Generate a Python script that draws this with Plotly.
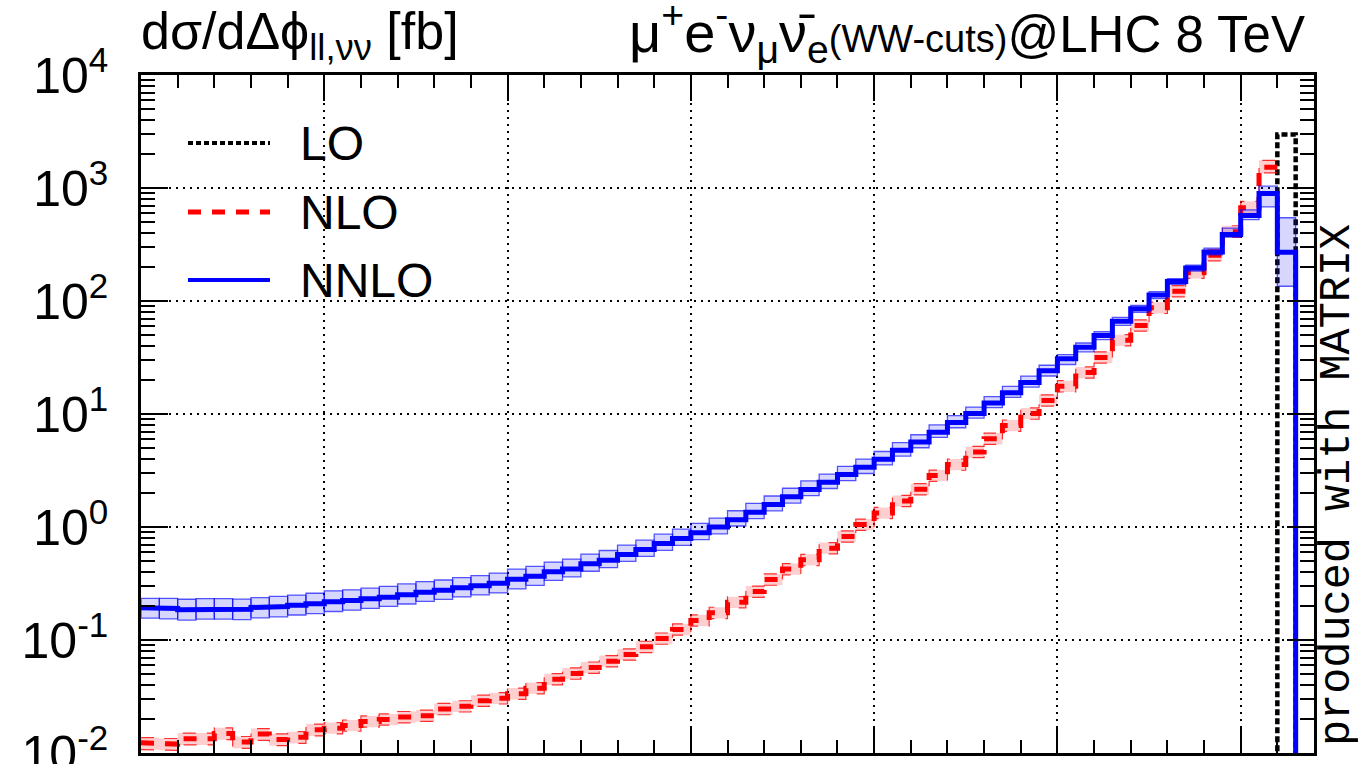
import plotly.graph_objects as go

# Histogram binning in delta-phi(ll, nunu) [rad]
bin_width = 0.05
n_bins = 63
edges = [round(i * bin_width, 2) for i in range(n_bins + 1)]

# d(sigma)/d(delta phi) [fb] per bin
lo = [0.0] * 62 + [2975.0]

nlo = [0.0123, 0.0120, 0.0134, 0.0134, 0.0149, 0.0125, 0.0147, 0.0132, 0.0138, 0.0161,
       0.0166, 0.0175, 0.0190, 0.0198, 0.0208, 0.0214, 0.0245, 0.0259, 0.0290, 0.0305,
       0.0335, 0.0375, 0.0450, 0.0505, 0.0570, 0.0650, 0.0745, 0.0870, 0.103, 0.124,
       0.149, 0.174, 0.216, 0.268, 0.343, 0.424, 0.512, 0.650, 0.825, 1.05,
       1.33, 1.70, 2.16, 2.85, 3.57, 4.61, 6.05, 7.9, 10.1, 13.2,
       17.6, 23.3, 31.7, 45.0, 60.7, 87.1, 122.0, 178.0, 254.0, 410.0,
       668.0, 1528.0, None]
nlo_up_pct = [11, 12, 12, 12, 12, 12, 12, 12, 12, 12,
              12, 12, 12, 12, 12, 12, 12, 12, 12, 12,
              12, 12, 12, 12, 12, 12, 12, 12, 12, 12,
              12, 12, 12, 12, 12, 12, 12, 12, 12, 12,
              12, 12, 12, 12, 12, 12, 12, 12, 12, 12,
              12, 12, 12, 12, 12, 12, 12, 12, 13, 13,
              14, 15, 0]
nlo_dn_pct = [13, 12, 12, 12, 12, 12, 12, 12, 12, 12,
              11, 11, 11, 11, 11, 11, 11, 11, 11, 11,
              11, 11, 11, 11, 11, 11, 11, 11, 11, 11,
              11, 11, 11, 11, 11, 11, 11, 11, 11, 11,
              11, 11, 11, 11, 11, 11, 11, 11, 11, 11,
              11, 11, 11, 11, 11, 11, 11, 11, 11, 11,
              11, 11, 0]

nnlo = [0.193, 0.190, 0.185, 0.189, 0.189, 0.187, 0.194, 0.198, 0.203, 0.209,
        0.218, 0.224, 0.232, 0.239, 0.251, 0.265, 0.276, 0.290, 0.302, 0.318,
        0.345, 0.367, 0.401, 0.426, 0.472, 0.508, 0.571, 0.632, 0.714, 0.791,
        0.888, 1.00, 1.16, 1.35, 1.58, 1.85, 2.15, 2.49, 2.92, 3.38,
        3.98, 4.77, 5.65, 6.9, 8.4, 10.1, 12.5, 15.4, 19.0, 24.1,
        30.8, 39.0, 49.5, 66.2, 85.5, 113.0, 149.0, 196.0, 272.0, 388.0,
        571.0, 894.0, 270.0]
nnlo_up_pct = [21, 23, 24, 23, 23, 23, 22, 23, 23, 24,
               25, 24, 24, 25, 25, 24, 23, 23, 23, 23,
               23, 22, 22, 22, 22, 22, 21, 21, 21, 21,
               21, 20, 20, 20, 19, 19, 19, 18, 18, 18,
               17, 17, 16, 16, 15, 14, 14, 14, 14, 12,
               9, 9, 8, 8, 7, 7, 6, 6, 8, 14,
               12, 16, 102]
nnlo_dn_pct = [19, 19, 19, 19, 19, 19, 19, 19, 18, 18,
               18, 18, 18, 17, 17, 17, 17, 17, 17, 18,
               18, 17, 16, 15, 14, 14, 13, 13, 13, 13,
               13, 13, 12, 12, 12, 12, 12, 12, 12, 12,
               11, 11, 11, 10, 10, 9, 9, 9, 9, 10,
               11, 9, 8, 8, 7, 7, 6, 6, 6, 5,
               8, 24, 50]

y_tickvals = [1e-2, 1e-1, 1, 10, 100, 1000, 1e4]
y_ticktext = ["10<sup>-2</sup>", "10<sup>-1</sup>", "10<sup>0</sup>", "10<sup>1</sup>",
              "10<sup>2</sup>", "10<sup>3</sup>", "10<sup>4</sup>"]

W, H = 1358, 764
ML, MR, MT, MB = 141, 44, 75, 11
Y_FLOOR = 1e-3  # below the visible range: histogram outlines close down to it

SANS = "Liberation Sans, Arial, Helvetica, sans-serif"


def step_path(vals, close_at_end=False, empty_to_floor=False):
    xs, ys = [], []
    for i, v in enumerate(vals):
        if v is None or v <= 0:
            if empty_to_floor:
                v = Y_FLOOR
            else:
                xs.append(None)
                ys.append(None)
                continue
        xs += [edges[i], edges[i + 1]]
        ys += [v, v]
    if close_at_end:
        xs.append(edges[-1])
        ys.append(Y_FLOOR)
    return xs, ys


def band_boxes(vals, up, dn):
    xs, ys = [], []
    for i, v in enumerate(vals):
        if v is None:
            continue
        hi = v * (1 + up[i] / 100.0)
        lw = v * (1 - dn[i] / 100.0)
        x0, x1 = edges[i], edges[i + 1]
        xs += [x0, x1, x1, x0, x0, None]
        ys += [lw, lw, hi, hi, lw, None]
    return xs, ys


def band_edge(vals, pct, sign):
    out = []
    for i, v in enumerate(vals):
        out.append(None if v is None else v * (1 + sign * pct[i] / 100.0))
    return step_path(out)


fig = go.Figure()

# LO
x, y = step_path(lo, close_at_end=True, empty_to_floor=True)
fig.add_trace(go.Scatter(x=x, y=y, mode="lines", name="LO", showlegend=False,
                         line=dict(color="black", width=4.5, dash="6px,3px")))

# NLO scale band and central value
x, y = band_boxes(nlo, nlo_up_pct, nlo_dn_pct)
fig.add_trace(go.Scatter(x=x, y=y, mode="lines", fill="toself", showlegend=False,
                         fillcolor="rgba(255,0,0,0.19)", line=dict(width=0), hoverinfo="skip"))
for sgn, pct in ((1, nlo_up_pct), (-1, nlo_dn_pct)):
    x, y = band_edge(nlo, pct, sgn)
    fig.add_trace(go.Scatter(x=x, y=y, mode="lines", showlegend=False, hoverinfo="skip",
                             line=dict(color="rgba(255,0,0,0.8)", width=1.2, dash="13px,11px")))
x, y = step_path(nlo)
fig.add_trace(go.Scatter(x=x, y=y, mode="lines", name="NLO", showlegend=False,
                         line=dict(color="#ff0000", width=5, dash="13px,11px")))

# NNLO scale band and central value
x, y = band_boxes(nnlo, nnlo_up_pct, nnlo_dn_pct)
fig.add_trace(go.Scatter(x=x, y=y, mode="lines", fill="toself", showlegend=False,
                         fillcolor="rgba(0,0,255,0.16)", hoverinfo="skip",
                         line=dict(color="rgba(0,0,255,0.65)", width=1.3)))
x, y = step_path(nnlo, close_at_end=True)
fig.add_trace(go.Scatter(x=x, y=y, mode="lines", name="NNLO", showlegend=False,
                         line=dict(color="#0000ff", width=5)))


def px_x(p):
    return (p - ML) / (W - ML - MR)


def px_y(p):
    return (H - MB - p) / (H - MT - MB)


# Legend: white box hiding the grid, line samples and labels
shapes = [dict(type="rect", xref="paper", yref="paper", layer="between",
               x0=px_x(ML + 1), x1=px_x(410), y0=px_y(312), y1=px_y(112),
               fillcolor="white", line=dict(width=0))]
legend_rows = [("LO", 143, dict(color="black", width=4, dash="5px,3px")),
               ("NLO", 212, dict(color="#ff0000", width=5, dash="13px,11px")),
               ("NNLO", 280, dict(color="#0000ff", width=4))]
annotations = []
for label, ypx, ln in legend_rows:
    shapes.append(dict(type="line", xref="paper", yref="paper", layer="above",
                       x0=px_x(188), x1=px_x(270), y0=px_y(ypx), y1=px_y(ypx), line=ln))
    annotations.append(dict(xref="paper", yref="paper", x=px_x(298), y=px_y(ypx),
                            xanchor="left", yanchor="middle", showarrow=False,
                            text=label, font=dict(family=SANS, size=48, color="black")))

annotations.append(dict(xref="paper", yref="paper", x=px_x(139), y=px_y(70),
                        xanchor="left", yanchor="bottom", showarrow=False,
                        text="dσ/dΔϕ<sub>ll,νν</sub> [fb]",
                        font=dict(family=SANS, size=52, color="black")))
annotations.append(dict(xref="paper", yref="paper", x=px_x(1307), y=px_y(73),
                        xanchor="right", yanchor="bottom", showarrow=False,
                        text="<span style='font-size:56px'>μ<sup>+</sup>e<sup>-</sup>"
                             "ν<sub>μ</sub>ν̄<sub>e</sub></span>"
                             "<span style='font-size:38px'>(WW-cuts)</span>@LHC 8 TeV",
                        font=dict(family=SANS, size=51, color="black")))
annotations.append(dict(xref="paper", yref="paper", x=px_x(1337), y=px_y(485),
                        xanchor="center", yanchor="middle", showarrow=False, textangle=-90,
                        text="produced with MATRIX",
                        font=dict(family="Liberation Mono, Courier New, monospace",
                                  size=43.5, color="black")))

axis_common = dict(showline=True, linecolor="black", linewidth=2.5, mirror="ticks",
                   ticks="inside", tickcolor="black", tickwidth=2.2,
                   showgrid=True, gridcolor="black", gridwidth=1.6, griddash="2px,5px",
                   zeroline=False, automargin=False)

fig.update_xaxes(range=[0, 3.2], dtick=0.5, tick0=0, ticklen=26, showticklabels=False,
                 minor=dict(dtick=0.1, tick0=0, ticks="inside", ticklen=13,
                            tickcolor="black", tickwidth=2, showgrid=False),
                 **axis_common)
fig.update_yaxes(type="log", range=[-2, 4], tickmode="array", tickvals=y_tickvals,
                 ticktext=y_ticktext, ticklen=27, ticklabelstandoff=20,
                 ticklabeloverflow="allow",
                 tickfont=dict(family=SANS, size=50, color="black"),
                 minor=dict(dtick="D1", ticks="inside", ticklen=14,
                            tickcolor="black", tickwidth=2, showgrid=False),
                 **axis_common)

fig.update_layout(width=W, height=H, margin=dict(l=ML, r=MR, t=MT, b=MB, autoexpand=False),
                  paper_bgcolor="white", plot_bgcolor="white", showlegend=False,
                  shapes=shapes, annotations=annotations,
                  font=dict(family=SANS, color="black"))

fig.write_html("out.html")
